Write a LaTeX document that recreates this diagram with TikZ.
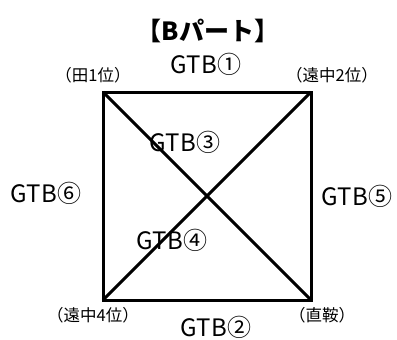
\documentclass[tikz,border=0pt]{standalone}
\usepackage{fontspec}
\setmainfont{Noto Sans CJK JP}
\definecolor{lineblack}{RGB}{0,0,0}

\begin{document}
\begin{tikzpicture}[x=1pt,y=-1pt,line width=3pt,
  gtb/.style={font=\fontsize{24}{24}\selectfont},
  place/.style={font=\fontsize{16.5}{17}\selectfont}]
  \useasboundingbox (0,0) rectangle (397,340);
  \coordinate (A) at (103,92);
  \coordinate (B) at (311,92);
  \coordinate (C) at (311,300);
  \coordinate (D) at (103,300);
  \draw[lineblack,line join=miter] (A) -- (B) -- (C) -- (D) -- cycle;
  \draw[lineblack] (A) -- (C);
  \draw[lineblack] (D) -- (B);
  \node[font=\bfseries\fontsize{25}{25}\selectfont] (title) at (208,31) {【Bパート】};
  \node[gtb] (g1) at (206,64) {GTB①};
  \node[gtb] (g2) at (216,327) {GTB②};
  \node[gtb] (g3) at (185,142) {GTB③};
  \node[gtb] (g4) at (172,240) {GTB④};
  \node[gtb] (g5) at (357,196) {GTB⑤};
  \node[gtb] (g6) at (46,193) {GTB⑥};
  \node[place] (p1) at (93,75) {（田1位）};
  \node[place] (p2) at (332,75) {（遠中2位）};
  \node[place] (p3) at (93,315) {（遠中4位）};
  \node[place] (p4) at (322,315) {（直鞍）};
\end{tikzpicture}
\end{document}
